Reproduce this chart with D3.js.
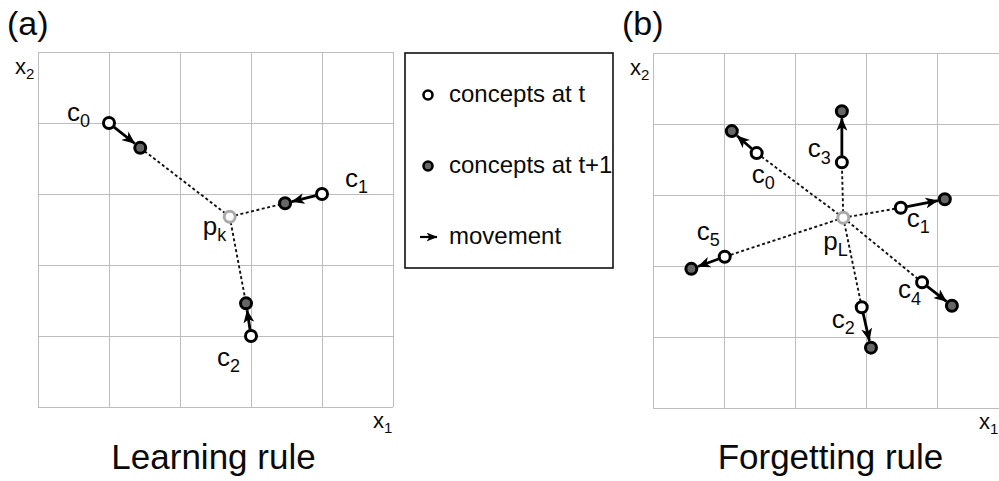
<!DOCTYPE html>
<html>
<head>
<meta charset="utf-8">
<script src="https://cdn.jsdelivr.net/npm/d3@7"></script>
<style>
  body { margin: 0; background: #fff; }
  svg { display: block; font-family: "Liberation Sans", Arial, sans-serif; }
</style>
</head>
<body>
<div id="chart"></div>
<script>
// grid ticks (both axes, both panels)
const gridTicks = [0, 1, 2, 3, 4, 5];

// Learning rule: prototype, concepts at t, concepts at t+1
const learnProto = [2.70, 2.68];
const learnNames = ['0', '1', '2'];
const learnAtT = [[1.00, 4.00], [4.00, 3.00], [3.00, 1.00]];
const learnAtT1 = [[1.44, 3.65], [3.48, 2.87], [2.93, 1.46]];

// Forgetting rule
const forgetProto = [2.68, 2.68];
const forgetNames = ['0', '1', '2', '3', '4', '5'];
const forgetAtT = [[1.46, 3.59], [3.49, 2.82], [2.94, 1.42], [2.66, 3.46], [3.79, 1.77], [1.01, 2.13]];
const forgetAtT1 = [[1.11, 3.90], [4.11, 2.94], [3.07, 0.85], [2.66, 4.18], [4.21, 1.44], [0.54, 1.96]];

const legendItems = ['concepts at t', 'concepts at t+1', 'movement'];

// label offsets (px) from the concept at t
const learnLabelOff = [[-42, -2], [23, -7], [-34, 30]];
const forgetLabelOff = [[-5, 30], [6, 19], [-30, 21], [-34, -5], [-24, 16], [-28, -17]];

const W = 999, H = 481;
const svg = d3.select('#chart').append('svg')
    .attr('width', W)
    .attr('height', H);

svg.append('rect').attr('width', W).attr('height', H).attr('fill', '#fff');

const defs = svg.append('defs');
defs.append('marker')
    .attr('id', 'head')
    .attr('markerUnits', 'userSpaceOnUse')
    .attr('viewBox', '0 0 13 11')
    .attr('refX', 12.5)
    .attr('refY', 5.5)
    .attr('markerWidth', 13)
    .attr('markerHeight', 11)
    .attr('orient', 'auto')
    .append('path')
    .attr('d', 'M0,0 L13,5.5 L0,11 L3.5,5.5 Z')
    .attr('fill', '#000');

defs.append('marker')
    .attr('id', 'headSmall')
    .attr('markerUnits', 'userSpaceOnUse')
    .attr('viewBox', '0 0 11 9')
    .attr('refX', 10.5)
    .attr('refY', 4.5)
    .attr('markerWidth', 11)
    .attr('markerHeight', 9)
    .attr('orient', 'auto')
    .append('path')
    .attr('d', 'M0,0 L11,4.5 L0,9 L3,4.5 Z')
    .attr('fill', '#000');

const R = 5.5;
const SW = 3;

// subscripted label: main letter + smaller lowered index
function subLabel(g, x, y, main, sub, size) {
    const t = g.append('text')
        .attr('x', x)
        .attr('y', y)
        .attr('font-size', size)
        .attr('fill', '#0a0a0a');
    t.append('tspan').text(main);
    t.append('tspan')
        .attr('font-size', Math.round(size * 0.68))
        .attr('dy', size * 0.24)
        .text(sub);
}

function drawPanel(opt) {
    const x = d3.scaleLinear().domain([0, 5]).range([opt.left, opt.left + 355]);
    const y = d3.scaleLinear().domain([0, 5]).range([opt.top + 355, opt.top]);
    const g = svg.append('g');

    // grid
    g.append('g')
        .attr('transform', `translate(0,${y(0)})`)
        .call(d3.axisBottom(x).tickValues(gridTicks).tickSize(-355).tickFormat(''))
        .call(a => a.select('.domain').remove())
        .selectAll('line').attr('stroke', '#bdbdbd').attr('stroke-width', 1);
    g.append('g')
        .attr('transform', `translate(${x(0)},0)`)
        .call(d3.axisLeft(y).tickValues(gridTicks).tickSize(-355).tickFormat(''))
        .call(a => a.select('.domain').remove())
        .selectAll('line').attr('stroke', '#bdbdbd').attr('stroke-width', 1);

    // axis names
    subLabel(g, x(0) - 23, y(5) + 22, 'x', '2', 22);
    subLabel(g, opt.x1Pos, y(0) + 21, 'x', '1', 22);

    const px = x(opt.proto[0]), py = y(opt.proto[1]);

    // dotted link from prototype to the nearer concept
    const near = opt.learn ? opt.atT1 : opt.atT;
    g.selectAll('.link').data(near).join('line')
        .attr('class', 'link')
        .attr('x1', px).attr('y1', py)
        .attr('x2', d => x(d[0])).attr('y2', d => y(d[1]))
        .attr('stroke', '#111')
        .attr('stroke-width', 1.9)
        .attr('stroke-dasharray', '3,2.5');

    // movement arrows
    g.selectAll('.move').data(opt.atT).join('line')
        .attr('class', 'move')
        .each(function (d, i) {
            const x0 = x(d[0]), y0 = y(d[1]);
            const x1 = x(opt.atT1[i][0]), y1 = y(opt.atT1[i][1]);
            const len = Math.hypot(x1 - x0, y1 - y0);
            const ux = (x1 - x0) / len, uy = (y1 - y0) / len;
            d3.select(this)
                .attr('x1', x0 + ux * (R + 1)).attr('y1', y0 + uy * (R + 1))
                .attr('x2', x1 - ux * (R + 1.5)).attr('y2', y1 - uy * (R + 1.5));
        })
        .attr('stroke', '#000')
        .attr('stroke-width', 2.8)
        .attr('marker-end', 'url(#head)');

    // concepts at t+1
    g.selectAll('.c1').data(opt.atT1).join('circle')
        .attr('class', 'c1')
        .attr('cx', d => x(d[0])).attr('cy', d => y(d[1]))
        .attr('r', R)
        .attr('fill', '#666')
        .attr('stroke', '#000')
        .attr('stroke-width', SW);

    // concepts at t
    g.selectAll('.c0').data(opt.atT).join('circle')
        .attr('class', 'c0')
        .attr('cx', d => x(d[0])).attr('cy', d => y(d[1]))
        .attr('r', R)
        .attr('fill', '#fff')
        .attr('stroke', '#000')
        .attr('stroke-width', SW);

    // prototype
    g.append('circle')
        .attr('cx', px).attr('cy', py)
        .attr('r', R)
        .attr('fill', '#fff')
        .attr('stroke', '#aaa')
        .attr('stroke-width', SW);

    opt.atT.forEach((d, i) => {
        const o = opt.labelOff[i];
        subLabel(g, x(d[0]) + o[0], y(d[1]) + o[1], 'c', opt.names[i], 26);
    });
    subLabel(g, px + opt.protoOff[0], py + opt.protoOff[1], 'p', opt.protoSub, 26);

    svg.append('text')
        .attr('x', opt.left - 31).attr('y', 35)
        .attr('font-size', 34)
        .attr('fill', '#0a0a0a')
        .text(opt.tag);

    svg.append('text')
        .attr('x', x(2.5) + opt.titleShift).attr('y', 469)
        .attr('text-anchor', 'middle')
        .attr('font-size', 35)
        .attr('fill', '#0a0a0a')
        .text(opt.title);
}

drawPanel({
    left: 38, top: 52, learn: true,
    proto: learnProto, atT: learnAtT, atT1: learnAtT1, names: learnNames,
    labelOff: learnLabelOff, protoOff: [-27, 18], protoSub: 'k',
    tag: '(a)', title: 'Learning rule', titleShift: -2, x1Pos: 373
});

drawPanel({
    left: 653, top: 53, learn: false,
    proto: forgetProto, atT: forgetAtT, atT1: forgetAtT1, names: forgetNames,
    labelOff: forgetLabelOff, protoOff: [-20, 32], protoSub: 'L',
    tag: '(b)', title: 'Forgetting rule', titleShift: 0, x1Pos: 979
});

// legend
const lg = svg.append('g');
lg.append('rect')
    .attr('x', 405).attr('y', 53)
    .attr('width', 208).attr('height', 215)
    .attr('fill', '#fff')
    .attr('stroke', '#111')
    .attr('stroke-width', 1.6);

const ly = d3.scalePoint().domain(legendItems).range([95, 237]);

lg.append('circle')
    .attr('cx', 428).attr('cy', ly(legendItems[0]))
    .attr('r', 4.5).attr('fill', '#fff')
    .attr('stroke', '#000').attr('stroke-width', 2.6);
lg.append('circle')
    .attr('cx', 428).attr('cy', ly(legendItems[1]))
    .attr('r', 4.5).attr('fill', '#666')
    .attr('stroke', '#000').attr('stroke-width', 2.6);
lg.append('line')
    .attr('x1', 420).attr('y1', ly(legendItems[2]))
    .attr('x2', 437).attr('y2', ly(legendItems[2]))
    .attr('stroke', '#000').attr('stroke-width', 2.2)
    .attr('marker-end', 'url(#headSmall)');

lg.selectAll('.ltext').data(legendItems).join('text')
    .attr('class', 'ltext')
    .attr('x', 449)
    .attr('y', d => ly(d) + 7)
    .attr('font-size', 24)
    .attr('fill', '#0a0a0a')
    .text(d => d);
</script>
</body>
</html>
